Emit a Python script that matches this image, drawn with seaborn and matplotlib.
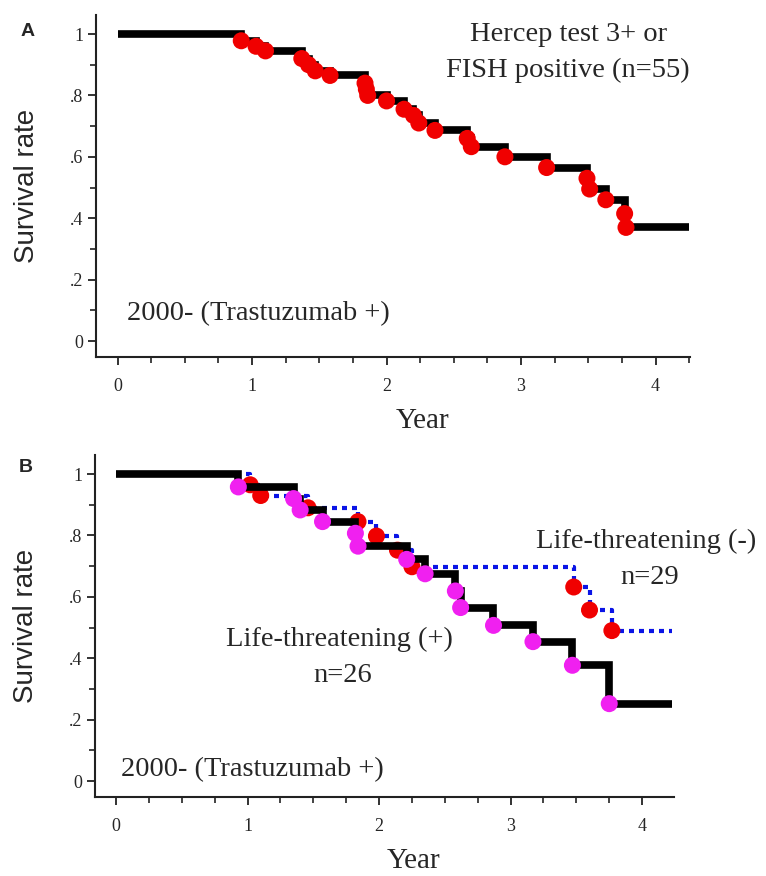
import matplotlib
matplotlib.use("Agg")
import matplotlib.pyplot as plt
import seaborn as sns
from matplotlib.ticker import MultipleLocator, FixedLocator

# panel A: Hercep test 3+ or FISH positive (n=55)
a_time = [0, 0.92, 1.03, 1.10, 1.37, 1.42, 1.47, 1.58, 1.84, 1.85, 1.86, 2.00,
          2.13, 2.20, 2.24, 2.36, 2.60, 2.63, 2.88, 3.19, 3.49, 3.51, 3.63, 3.77, 3.78]
a_surv = [1.0, 0.978, 0.96, 0.945, 0.92, 0.90, 0.88, 0.865, 0.84, 0.82, 0.80, 0.782,
          0.755, 0.735, 0.71, 0.686, 0.66, 0.633, 0.60, 0.565, 0.53, 0.495, 0.46, 0.415, 0.37]
a_end = 4.25

# panel B: life-threatening (+), n=26
bp_time = [0, 0.93, 1.35, 1.40, 1.57, 1.82, 1.84, 2.21, 2.35, 2.58, 2.62, 2.87, 3.17, 3.47, 3.75]
bp_surv = [1.0, 0.958, 0.92, 0.883, 0.845, 0.807, 0.765, 0.722, 0.675, 0.619, 0.565,
           0.507, 0.454, 0.377, 0.252]
# panel B: life-threatening (-), n=29
bn_time = [0, 1.02, 1.10, 1.46, 1.84, 1.98, 2.14, 2.25, 3.48, 3.60, 3.77]
bn_surv = [1.0, 0.965, 0.93, 0.89, 0.845, 0.798, 0.752, 0.698, 0.632, 0.557, 0.49]
b_end = 4.23

y_ticks = [0, 0.2, 0.4, 0.6, 0.8, 1.0]
y_labels = ["0", ".2", ".4", ".6", ".8", "1"]
x_ticks = [0, 1, 2, 3, 4]

sns.set_style("ticks")
plt.rcParams["font.family"] = ["Liberation Serif", "DejaVu Serif"]

fig = plt.figure(figsize=(7.66, 8.76), dpi=100)
axA = fig.add_axes([0.1253, 0.5925, 0.7755, 0.3904])
axB = fig.add_axes([0.124, 0.0902, 0.756, 0.3904])


def km_line(ax, t, s, end, **kw):
    sns.lineplot(x=t + [end], y=s + [s[-1]], drawstyle="steps-post", estimator=None,
                 sort=False, ax=ax, **kw)


def marks(ax, t, s, color, z):
    sns.scatterplot(x=t[1:], y=s[1:], color=color, s=150, edgecolor="none",
                    linewidth=0, zorder=z, ax=ax)


def style_axis(ax, xmax, lab_x):
    ax.set_xlim(-0.16, xmax)
    ax.set_ylim(-0.052, 1.062)
    ax.xaxis.set_major_locator(FixedLocator(x_ticks))
    ax.xaxis.set_minor_locator(MultipleLocator(0.25))
    ax.yaxis.set_major_locator(FixedLocator(y_ticks))
    ax.yaxis.set_minor_locator(MultipleLocator(0.1))
    ax.set_yticklabels(y_labels)
    ax.tick_params(which="major", length=6, width=1.3, labelsize=13, color="#222222")
    ax.tick_params(which="minor", length=4, width=1.2, color="#222222")
    ax.tick_params(axis="x", which="major", pad=9)
    ax.tick_params(axis="y", which="major", pad=3)
    for sp in ["left", "bottom"]:
        ax.spines[sp].set_linewidth(1.5)
        ax.spines[sp].set_color("#222222")
    sns.despine(ax=ax)
    ax.set_ylabel("Survival rate", fontsize=20, family=["Liberation Sans", "DejaVu Sans"])
    ax.set_xlabel("Year", fontsize=21)
    ax.yaxis.set_label_coords(lab_x, 0.5)
    ax.xaxis.set_label_coords(0.55, -0.148)


# ---- panel A
km_line(axA, a_time, a_surv, a_end, color="black", lw=5.5, zorder=2)
axA.lines[-1].set_solid_joinstyle("miter")
axA.lines[-1].set_solid_capstyle("butt")
marks(axA, a_time, a_surv, "#f00000", 3)
style_axis(axA, 4.256, -0.095)
axA.text(3.35, 1.0, "Hercep test 3+ or", fontsize=20.5, ha="center", va="center")
axA.text(3.35, 0.88, "FISH positive (n=55)", fontsize=20.5, ha="center", va="center")
axA.text(0.07, 0.09, "2000- (Trastuzumab +)", fontsize=20.5, ha="left", va="center")

# ---- panel B
km_line(axB, bn_time, bn_surv, b_end, color="#0a14e6", lw=3, zorder=1.5,
        linestyle=(0, (1.2, 1.2)))
marks(axB, bn_time, bn_surv, "#f00000", 1.8)
km_line(axB, bp_time, bp_surv, b_end, color="black", lw=5.5, zorder=2)
axB.lines[-1].set_solid_joinstyle("miter")
axB.lines[-1].set_solid_capstyle("butt")
marks(axB, bp_time, bp_surv, "#f020f0", 3)
style_axis(axB, 4.243, -0.097)
axB.text(4.03, 0.78, "Life-threatening (-)", fontsize=20.5, ha="center", va="center")
axB.text(4.06, 0.664, "n=29", fontsize=20.5, ha="center", va="center")
axB.text(1.70, 0.46, "Life-threatening (+)", fontsize=20.5, ha="center", va="center")
axB.text(1.72, 0.344, "n=26", fontsize=20.5, ha="center", va="center")
axB.text(0.04, 0.038, "2000- (Trastuzumab +)", fontsize=20.5, ha="left", va="center")

fig.text(28 / 766, 1 - 31 / 876, "A", fontsize=14, fontweight="bold",
         family=["Liberation Sans", "DejaVu Sans"], ha="center", va="center")
fig.text(26 / 766, 1 - 468 / 876, "B", fontsize=14, fontweight="bold",
         family=["Liberation Sans", "DejaVu Sans"], ha="center", va="center")

fig.savefig("out.png", dpi=100)
